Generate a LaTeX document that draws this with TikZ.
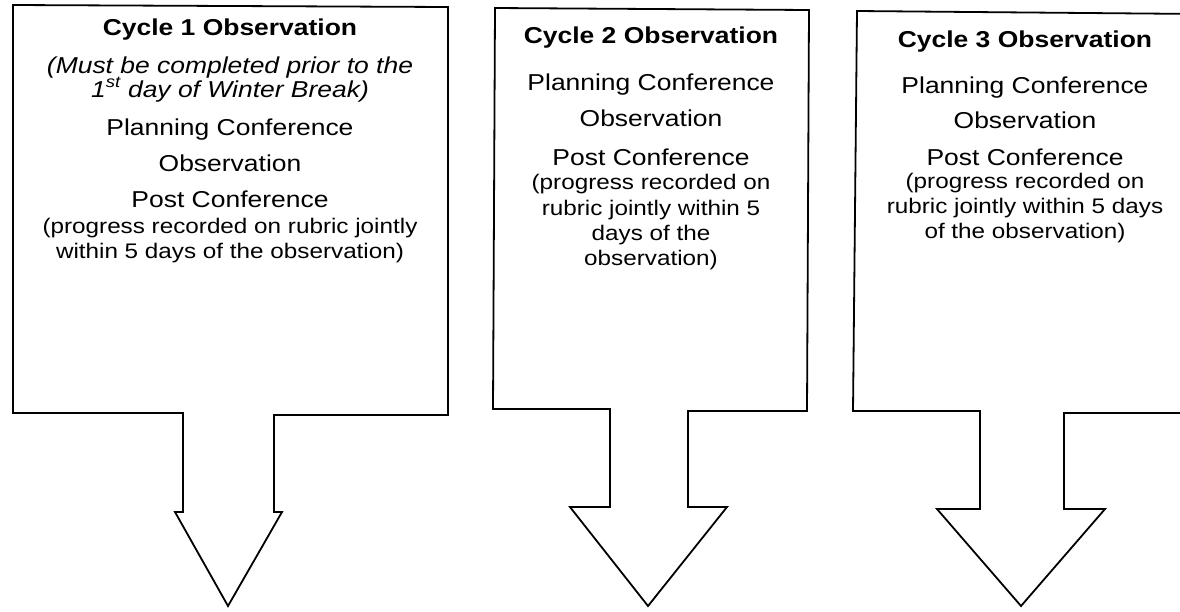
\documentclass[tikz,border=0pt]{standalone}
\usepackage{fontspec}
\setmainfont{Liberation Sans}[FakeStretch=1.15]
\begin{document}
\begin{tikzpicture}[x=1pt,y=-1pt,
  callout/.style={draw=black,line width=1.8pt,line join=miter,fill=white},
  bigtext/.style={anchor=base,inner sep=0pt,font=\fontsize{23}{25}\selectfont},
  titletext/.style={bigtext,font=\fontsize{23}{25}\selectfont\bfseries},
  notetext/.style={bigtext,font=\fontsize{23}{25}\selectfont\itshape},
  smalltext/.style={anchor=base,inner sep=0pt,font=\fontsize{21.1}{25}\selectfont}]
\useasboundingbox (0,0) rectangle (1180,611);
\fill[white] (0,0) rectangle (1180,611);

% box with downward arrow, cycle 1
\draw[callout] (13,5) -- (448,7) -- (448,415) -- (274,415) -- (274,512) -- (282,512)
  -- (228,606) -- (175,512) -- (183,512) -- (183,413) -- (13,413) -- cycle;
% cycle 2
\draw[callout] (495,8) -- (809,10) -- (807,411) -- (688,411) -- (688,507) -- (727,507)
  -- (648,606) -- (570,507) -- (610,507) -- (610,409) -- (493,409) -- cycle;
% cycle 3 (runs past the right edge)
\draw[callout] (1200,14) -- (857,11) -- (853,411) -- (980,411) -- (980,509) -- (937,509)
  -- (1021,606) -- (1105,509) -- (1064,509) -- (1064,413) -- (1200,413);

% cycle 1 text
\node[titletext] (t1) at (230,35) {Cycle 1 Observation};
\node[notetext] (n1a) at (230,73) {(Must be completed prior to the};
\node[notetext] (n1b) at (230,97) {1\textsuperscript{st} day of Winter Break)};
\node[bigtext] (p1) at (230,135) {Planning Conference};
\node[bigtext] (o1) at (230,171) {Observation};
\node[bigtext] (c1) at (230,207) {Post Conference};
\node[smalltext] (r1a) at (230,233) {(progress recorded on rubric jointly};
\node[smalltext] (r1b) at (230,258) {within 5 days of the observation)};

% cycle 2 text
\node[titletext] (t2) at (651,43) {Cycle 2 Observation};
\node[bigtext] (p2) at (651,90) {Planning Conference};
\node[bigtext] (o2) at (651,126) {Observation};
\node[bigtext] (c2) at (651,165) {Post Conference};
\node[smalltext] (r2a) at (651,189) {(progress recorded on};
\node[smalltext] (r2b) at (651,215) {rubric jointly within 5};
\node[smalltext] (r2c) at (651,240) {days of the};
\node[smalltext] (r2d) at (651,265) {observation)};

% cycle 3 text
\node[titletext] (t3) at (1025,47) {Cycle 3 Observation};
\node[bigtext] (p3) at (1025,93) {Planning Conference};
\node[bigtext] (o3) at (1025,128) {Observation};
\node[bigtext] (c3) at (1025,165) {Post Conference};
\node[smalltext] (r3a) at (1025,188) {(progress recorded on};
\node[smalltext] (r3b) at (1025,213) {rubric jointly within 5 days};
\node[smalltext] (r3c) at (1025,238) {of the observation)};
\end{tikzpicture}
\end{document}
